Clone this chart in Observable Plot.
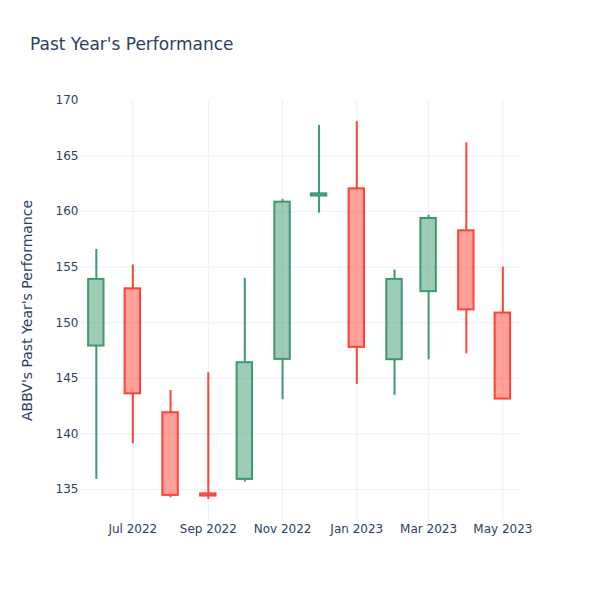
<!DOCTYPE html>
<html>
<head>
<meta charset="utf-8">
<script src="https://cdn.jsdelivr.net/npm/d3@7"></script>
<script src="https://cdn.jsdelivr.net/npm/@observablehq/plot@0.6"></script>
<style>
  body { margin: 0; background: #fff; font-family: "DejaVu Sans", sans-serif; }
  #wrap { width: 600px; }
  #head { position: relative; height: 60px; }
  #title { position: absolute; left: 30px; top: 34px; line-height: 20px; font-size: 17px; color: #2a3f5f; white-space: nowrap; }
</style>
</head>
<body>
<div id="wrap">
  <div id="head"><div id="title">Past Year's Performance</div></div>
  <div id="chart"></div>
</div>
<script>
const dates = ["2022-06-01","2022-07-01","2022-08-01","2022-09-01","2022-10-01","2022-11-01",
               "2022-12-01","2023-01-01","2023-02-01","2023-03-01","2023-04-01","2023-05-01"];
const open  = [147.9, 153.05, 141.9, 134.6, 135.9, 146.7, 161.4, 162.05, 146.67, 152.8, 158.27, 150.87];
const high  = [156.6, 155.2, 143.9, 145.5, 154.0, 161.1, 167.75, 168.1, 154.74, 159.68, 166.19, 155.0];
const low   = [135.9, 139.1, 134.25, 134.1, 135.66, 143.07, 159.86, 144.45, 143.46, 146.67, 147.2, 143.1];
const close = [153.9, 143.6, 134.46, 134.4, 146.4, 160.85, 161.6, 147.78, 153.9, 159.38, 151.16, 143.13];

const xTicks = ["2022-07-01","2022-09-01","2022-11-01","2023-01-01","2023-03-01","2023-05-01"];
const yTicks = [135, 140, 145, 150, 155, 160, 165, 170];
const yGrid  = [135, 140, 145, 150, 155, 160, 165];
const yLabel = "ABBV's Past Year's Performance";

const data = dates.map((d, i) => ({date: new Date(d), open: open[i], high: high[i], low: low[i], close: close[i]}));
const up = data.filter(d => d.close >= d.open);
const down = data.filter(d => d.close < d.open);
const UP = "#3D9970", DOWN = "#FF4136", GRID = "#EBF0F8", TEXT = "#2a3f5f";
const half = 152; // hours, half candle width
const left = d => d3.utcHour.offset(d.date, -half);
const right = d => d3.utcHour.offset(d.date, half);

function candles(arr, color) {
  return [
    Plot.ruleX(arr, {x: "date", y1: "low", y2: d => Math.min(d.open, d.close), stroke: color, strokeWidth: 2}),
    Plot.ruleX(arr, {x: "date", y1: d => Math.max(d.open, d.close), y2: "high", stroke: color, strokeWidth: 2}),
    Plot.rect(arr, {x1: left, x2: right, y1: "open", y2: "close", fill: color, fillOpacity: 0.5, stroke: color, strokeWidth: 2})
  ];
}

const chart = Plot.plot({
  width: 600,
  height: 540,
  marginTop: 40,
  marginLeft: 80,
  marginRight: 80,
  marginBottom: 80,
  style: {fontFamily: "DejaVu Sans", fontSize: "12px", color: TEXT, background: "#fff"},
  x: {type: "utc", domain: [new Date("2022-05-19"), new Date("2023-05-15T12:00")],
      ticks: xTicks.map(d => new Date(d)), tickFormat: d3.utcFormat("%b %Y"),
      tickSize: 0, tickPadding: 4, label: null},
  y: {domain: [132.2, 170], ticks: yTicks, tickSize: 0, tickPadding: 2, label: null},
  marks: [
    Plot.ruleY(yGrid, {stroke: GRID, strokeWidth: 1}),
    Plot.ruleX(xTicks.map(d => new Date(d)), {stroke: GRID, strokeWidth: 1}),
    ...candles(up, UP),
    ...candles(down, DOWN),
    Plot.text([yLabel], {frameAnchor: "left", textAnchor: "middle", text: d => d, rotate: -90, dx: -53, fontSize: 14, fill: TEXT})
  ]
});
document.getElementById("chart").appendChild(chart);
</script>
</body>
</html>
